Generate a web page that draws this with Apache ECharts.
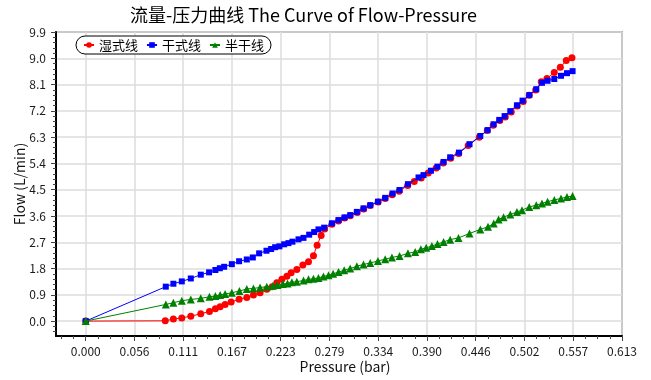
<!DOCTYPE html>
<html>
<head>
<meta charset="utf-8">
<script src="https://cdn.jsdelivr.net/npm/echarts@6/dist/echarts.min.js"></script>
<style>
  html, body { margin: 0; padding: 0; background: #fff; }
  #chart { width: 651px; height: 380px; }
</style>
</head>
<body>
<div id="chart"></div>
<script>
// Flow vs. pressure curves for three sprinkler line types
const FONT = '"Noto Sans CJK SC", "Noto Sans", sans-serif';

const seriesNames = ['湿式线', '干式线', '半干线'];
const seriesColors = ['#ff0000', '#0000ff', '#008000'];

// 湿式线 (wet line)
const wetPressure = [0, 0.0909, 0.1002, 0.1098, 0.1201, 0.1315, 0.1414, 0.1482, 0.1536, 0.1593,
  0.1662, 0.1753, 0.1841, 0.1917, 0.1993, 0.2070, 0.2131, 0.2184, 0.2242, 0.2299,
  0.2348, 0.2413, 0.2482, 0.2546, 0.2603, 0.2645, 0.2691, 0.2731, 0.2814, 0.2889,
  0.2958, 0.3023, 0.3103, 0.3177, 0.3252, 0.3343, 0.3423, 0.3503, 0.3583, 0.3680,
  0.3755, 0.3835, 0.3915, 0.4006, 0.4086, 0.4172, 0.4264, 0.4372, 0.4498, 0.4590,
  0.4658, 0.4733, 0.4796, 0.4864, 0.4933, 0.5001, 0.5070, 0.5144, 0.5207, 0.5272,
  0.5356, 0.5425, 0.5493, 0.5558];
const wetFlow = [0, 0.01, 0.07, 0.11, 0.17, 0.25, 0.33, 0.42, 0.49, 0.57,
  0.65, 0.75, 0.81, 0.89, 0.97, 1.09, 1.18, 1.31, 1.43, 1.54,
  1.66, 1.77, 1.92, 2.03, 2.24, 2.60, 2.93, 3.15, 3.32, 3.43,
  3.53, 3.61, 3.72, 3.84, 3.96, 4.08, 4.20, 4.33, 4.45, 4.64,
  4.78, 4.90, 5.07, 5.24, 5.41, 5.58, 5.74, 6.01, 6.30, 6.53,
  6.71, 6.87, 6.99, 7.16, 7.37, 7.52, 7.73, 7.91, 8.20, 8.31,
  8.51, 8.69, 8.92, 9.02];

// 干式线 (dry line)
const dryPressure = [0, 0.0915, 0.1002, 0.1098, 0.1201, 0.1315, 0.1410, 0.1482, 0.1533, 0.1582,
  0.1670, 0.1753, 0.1841, 0.1910, 0.1982, 0.2066, 0.2119, 0.2165, 0.2214, 0.2268,
  0.2317, 0.2363, 0.2432, 0.2489, 0.2554, 0.2611, 0.2660, 0.2725, 0.2814, 0.2889,
  0.2958, 0.3023, 0.3099, 0.3175, 0.3252, 0.3340, 0.3423, 0.3507, 0.3587, 0.3683,
  0.3804, 0.3861, 0.3946, 0.4021, 0.4090, 0.4166, 0.4266, 0.4387, 0.4510, 0.4593,
  0.4662, 0.4727, 0.4788, 0.4853, 0.4929, 0.4993, 0.5070, 0.5150, 0.5215, 0.5279,
  0.5356, 0.5433, 0.5501, 0.5565];
const dryFlow = [0, 1.18, 1.28, 1.36, 1.46, 1.59, 1.67, 1.75, 1.81, 1.86,
  1.95, 2.05, 2.11, 2.18, 2.32, 2.41, 2.47, 2.53, 2.56, 2.63,
  2.67, 2.72, 2.80, 2.85, 2.96, 3.05, 3.14, 3.20, 3.35, 3.46,
  3.55, 3.63, 3.74, 3.86, 3.97, 4.09, 4.22, 4.37, 4.49, 4.69,
  4.92, 5.00, 5.15, 5.29, 5.45, 5.61, 5.77, 6.06, 6.34, 6.54,
  6.74, 6.89, 7.02, 7.19, 7.39, 7.55, 7.74, 7.94, 8.16, 8.23,
  8.29, 8.40, 8.49, 8.56];

// 半干线 (semi-dry line)
const semiPressure = [0, 0.0915, 0.1002, 0.1098, 0.1201, 0.1315, 0.1414, 0.1482, 0.1536, 0.1593,
  0.1670, 0.1757, 0.1841, 0.1917, 0.1993, 0.2070, 0.2139, 0.2191, 0.2253, 0.2306,
  0.2356, 0.2413, 0.2489, 0.2546, 0.2603, 0.2660, 0.2717, 0.2775, 0.2828, 0.2889,
  0.2954, 0.3023, 0.3099, 0.3175, 0.3252, 0.3340, 0.3423, 0.3500, 0.3587, 0.3683,
  0.3766, 0.3831, 0.3892, 0.3957, 0.4021, 0.4090, 0.4166, 0.4261, 0.4387, 0.4510,
  0.4598, 0.4664, 0.4719, 0.4776, 0.4853, 0.4929, 0.4987, 0.5070, 0.5150, 0.5215,
  0.5279, 0.5356, 0.5433, 0.5501, 0.5565];
const semiFlow = [0, 0.57, 0.63, 0.70, 0.74, 0.78, 0.83, 0.86, 0.89, 0.93,
  0.97, 1.03, 1.10, 1.12, 1.15, 1.18, 1.21, 1.24, 1.27, 1.29,
  1.33, 1.35, 1.39, 1.43, 1.45, 1.48, 1.53, 1.57, 1.62, 1.68,
  1.74, 1.80, 1.88, 1.94, 1.99, 2.06, 2.12, 2.18, 2.23, 2.32,
  2.37, 2.46, 2.51, 2.57, 2.64, 2.71, 2.79, 2.85, 3.00, 3.14,
  3.23, 3.34, 3.48, 3.56, 3.65, 3.74, 3.80, 3.91, 3.97, 4.03,
  4.09, 4.15, 4.20, 4.25, 4.28];

// Axis tick labels
const xTickLabels = ['0.000', '0.056', '0.111', '0.167', '0.223', '0.279',
  '0.334', '0.390', '0.446', '0.502', '0.557', '0.613'];
const yTickLabels = ['0.0', '0.9', '1.8', '2.7', '3.6', '4.5', '5.4', '6.3', '7.2', '8.1', '9.0', '9.9'];

// Axis extents
const X_MIN = -0.034, X_MAX = 0.613, X_STEP = X_MAX / 11;
const Y_MIN = -0.51, Y_MAX = 9.9, Y_STEP = 0.9;

const xMajor = xTickLabels.map((_, i) => Math.min(X_MAX, +(i * X_STEP).toFixed(6)));
const yMajor = yTickLabels.map((_, i) => Math.min(Y_MAX, +(i * Y_STEP).toFixed(6)));
const xMinor = [];
for (let k = -2; k <= 44; k++) xMinor.push(Math.min(X_MAX, +(k * X_STEP / 4).toFixed(6)));
const yMinor = [];
for (let k = -2; k <= 55; k++) yMinor.push(Math.min(Y_MAX, +(k * Y_STEP / 5).toFixed(6)));

const zip = (xs, ys) => xs.map((x, i) => [x, ys[i]]);
const dataSets = [zip(wetPressure, wetFlow), zip(dryPressure, dryFlow), zip(semiPressure, semiFlow)];
const symbols = ['circle', 'rect', 'triangle'];
const symbolSizes = [7, 6, 8];

const labelStyle = { color: '#1a1a1a', fontFamily: FONT, fontSize: 12 };

const chart = echarts.init(document.getElementById('chart'), null, { renderer: 'canvas' });
chart.setOption({
  animation: false,
  backgroundColor: '#fff',
  title: {
    text: '流量-压力曲线 The Curve of Flow-Pressure',
    left: 130, top: 6, padding: 0,
    textStyle: { color: '#000', fontFamily: FONT, fontSize: 18, fontWeight: 'normal' }
  },
  legend: {
    left: 76, top: 36,
    padding: [2, 7],
    itemGap: 8, itemWidth: 10, itemHeight: 7,
    borderColor: '#000', borderWidth: 1, borderRadius: 9,
    backgroundColor: '#fff',
    textStyle: { color: '#000', fontFamily: FONT, fontSize: 13, lineHeight: 14 },
    data: seriesNames
  },
  grid: {
    left: 56, right: 29, top: 32, bottom: 44,
    show: true, borderColor: '#6e6e6e', borderWidth: 1.5, backgroundColor: 'transparent'
  },
  xAxis: [{
    type: 'value', min: X_MIN, max: X_MAX,
    name: 'Pressure (bar)', nameLocation: 'middle', nameGap: 24, nameMoveOverlap: false,
    nameTextStyle: { color: '#111', fontFamily: FONT, fontSize: 14, padding: [0, 0, 0, 12] },
    axisLine: { show: true, onZero: false, lineStyle: { color: '#000', width: 2 } },
    axisTick: { show: true, customValues: xMajor, length: 5, lineStyle: { color: '#444' } },
    axisLabel: {
      customValues: xMajor, margin: 9, hideOverlap: false, ...labelStyle,
      formatter: v => xTickLabels[Math.round(v / X_STEP)]
    },
    splitLine: { show: true, lineStyle: { color: '#dcdcdc', width: 1.5 } }
  }, {
    type: 'value', min: X_MIN, max: X_MAX, position: 'bottom',
    axisLine: { show: false, onZero: false },
    axisTick: { show: true, customValues: xMinor, length: 3, lineStyle: { color: '#444' } },
    axisLabel: { show: false },
    splitLine: { show: false }
  }],
  yAxis: [{
    type: 'value', min: Y_MIN, max: Y_MAX,
    name: 'Flow (L/min)', nameLocation: 'middle', nameGap: 29, nameMoveOverlap: false,
    nameTextStyle: { color: '#111', fontFamily: FONT, fontSize: 14 },
    axisLine: { show: true, onZero: false, lineStyle: { color: '#000', width: 2 } },
    axisTick: { show: true, customValues: yMajor, length: 5, lineStyle: { color: '#444' } },
    axisLabel: {
      customValues: yMajor, margin: 10, hideOverlap: false, ...labelStyle,
      formatter: v => yTickLabels[Math.round(v / Y_STEP)]
    },
    splitLine: { show: true, lineStyle: { color: '#dcdcdc', width: 1.5 } }
  }, {
    type: 'value', min: Y_MIN, max: Y_MAX, position: 'left',
    axisLine: { show: false, onZero: false },
    axisTick: { show: true, customValues: yMinor, length: 3, lineStyle: { color: '#444' } },
    axisLabel: { show: false },
    splitLine: { show: false }
  }],
  series: seriesNames.map((name, i) => ({
    name,
    type: 'line',
    xAxisIndex: 0, yAxisIndex: 0,
    data: dataSets[i],
    symbol: symbols[i],
    symbolSize: symbolSizes[i],
    showAllSymbol: true,
    color: seriesColors[i],
    lineStyle: { color: seriesColors[i], width: 1 },
    itemStyle: { color: seriesColors[i] },
    emphasis: { disabled: true },
    z: 2 + i
  }))
});
</script>
</body>
</html>
